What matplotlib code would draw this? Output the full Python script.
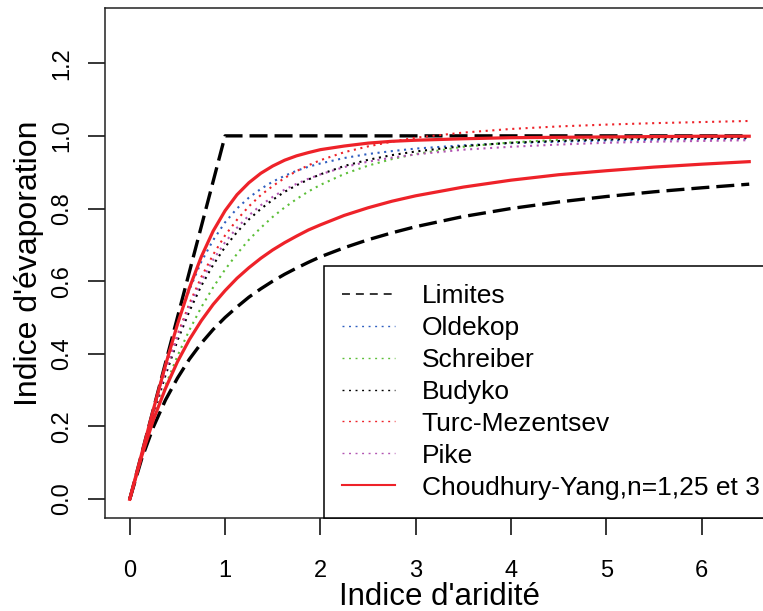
import matplotlib
matplotlib.use('Agg')
import matplotlib.pyplot as plt
from matplotlib.lines import Line2D

plt.rcParams['font.family'] = ['Liberation Sans', 'DejaVu Sans']

# indice d'aridite (x) et valeurs
aridite = [0, 0.125, 0.25, 0.375, 0.5, 0.625, 0.75, 0.875, 1, 1.125, 1.25, 1.375, 1.5,
           1.625, 1.75, 1.875, 2, 2.25, 2.5, 2.75, 3, 3.5, 4, 4.5, 5, 5.5, 6, 6.5]

lim_haut_x = [0, 1, 6.5]
lim_haut_y = [0, 1, 1]
lim_bas = [0, 0.111, 0.200, 0.273, 0.333, 0.385, 0.429, 0.467, 0.500, 0.529, 0.556,
           0.579, 0.600, 0.619, 0.636, 0.652, 0.667, 0.692, 0.714, 0.733, 0.750,
           0.778, 0.800, 0.818, 0.833, 0.846, 0.857, 0.867]
oldekop = [0, 0.125, 0.250, 0.371, 0.482, 0.576, 0.653, 0.713, 0.762, 0.800, 0.830,
           0.854, 0.874, 0.890, 0.904, 0.915, 0.924, 0.939, 0.950, 0.958, 0.965,
           0.974, 0.980, 0.984, 0.987, 0.989, 0.991, 0.992]
schreiber = [0, 0.118, 0.221, 0.313, 0.394, 0.465, 0.528, 0.583, 0.632, 0.675, 0.714,
             0.747, 0.777, 0.803, 0.826, 0.847, 0.865, 0.895, 0.918, 0.936, 0.950,
             0.970, 0.982, 0.989, 0.993, 0.996, 0.998, 0.999]
budyko = [0, 0.121, 0.235, 0.341, 0.436, 0.517, 0.587, 0.645, 0.694, 0.735, 0.770,
          0.799, 0.824, 0.846, 0.864, 0.880, 0.894, 0.917, 0.934, 0.947, 0.957,
          0.972, 0.981, 0.986, 0.990, 0.993, 0.994, 0.995]
turc = [0, 0.124, 0.243, 0.353, 0.452, 0.538, 0.611, 0.673, 0.726, 0.769, 0.806,
        0.837, 0.862, 0.884, 0.903, 0.919, 0.933, 0.955, 0.971, 0.984, 0.995,
        1.009, 1.019, 1.026, 1.031, 1.035, 1.038, 1.041]
pike = [0, 0.124, 0.243, 0.351, 0.447, 0.530, 0.600, 0.659, 0.707, 0.747, 0.781,
        0.809, 0.832, 0.852, 0.868, 0.882, 0.894, 0.914, 0.929, 0.940, 0.949,
        0.962, 0.970, 0.976, 0.981, 0.984, 0.986, 0.988]
choud_125 = [0, 0.118, 0.220, 0.305, 0.378, 0.439, 0.491, 0.536, 0.574, 0.608, 0.637,
             0.663, 0.686, 0.706, 0.724, 0.741, 0.755, 0.781, 0.802, 0.820, 0.835,
             0.859, 0.878, 0.893, 0.904, 0.914, 0.922, 0.929]
choud_3 = [0, 0.125, 0.249, 0.369, 0.481, 0.581, 0.667, 0.738, 0.794, 0.838, 0.871,
           0.897, 0.917, 0.933, 0.945, 0.954, 0.962, 0.972, 0.980, 0.985, 0.988,
           0.992, 0.995, 0.996, 0.997, 0.998, 0.999, 0.999]

noms = ['Limites', 'Oldekop', 'Schreiber', 'Budyko', 'Turc-Mezentsev', 'Pike',
        'Choudhury-Yang,n=1,25 et 3']
bleu = '#2f5fc0'
vert = '#5cbf38'
rouge = '#ee2229'
violet = '#b255b2'

fig = plt.figure(figsize=(7.63, 6.11), dpi=100)
ax = fig.add_axes([105/763, 93/611, 669/763, 510/611])

tirets = (0, (5.4, 2.1))
points = (0, (1, 2.2))
ax.plot(lim_haut_x, lim_haut_y, color='black', lw=2.4, linestyle=tirets)
ax.plot(aridite, lim_bas, color='black', lw=2.4, linestyle=tirets)
ax.plot(aridite, oldekop, color=bleu, lw=1.5, linestyle=points)
ax.plot(aridite, schreiber, color=vert, lw=1.5, linestyle=points)
ax.plot(aridite, budyko, color='black', lw=1.5, linestyle=points)
ax.plot(aridite, turc, color=rouge, lw=1.5, linestyle=points)
ax.plot(aridite, pike, color=violet, lw=1.5, linestyle=points)
ax.plot(aridite, choud_3, color=rouge, lw=2.3)
ax.plot(aridite, choud_125, color=rouge, lw=2.3)

ax.set_xlim(-0.26, 6.76)
ax.set_ylim(-0.052, 1.352)
ax.set_xticks([0, 1, 2, 3, 4, 5, 6])
ax.set_yticks([0, 0.2, 0.4, 0.6, 0.8, 1.0, 1.2])
ax.set_yticklabels(['0.0', '0.2', '0.4', '0.6', '0.8', '1.0', '1.2'])
ax.tick_params(direction='out', length=12, width=1.1, labelsize=17)
ax.tick_params(axis='x', pad=18)
ax.tick_params(axis='y', pad=11, labelrotation=90)
for t in ax.get_yticklabels():
    t.set_va('center')
for s in ax.spines.values():
    s.set_linewidth(1.1)
    s.set_color('#222222')

ax.set_xlabel("Indice d'aridité", fontsize=22.5)
ax.set_ylabel("Indice d'évaporation", fontsize=23)
ax.xaxis.set_label_coords(0.5, -0.126)
ax.yaxis.set_label_coords(-0.091, 0.5)

poign = [
    Line2D([], [], color='black', lw=1.1, linestyle=(0, (5.2, 3.9))),
    Line2D([], [], color=bleu, lw=1.0, linestyle=(0, (1.4, 3.3))),
    Line2D([], [], color=vert, lw=1.0, linestyle=(0, (1.4, 3.3))),
    Line2D([], [], color='black', lw=1.0, linestyle=(0, (1.4, 3.3))),
    Line2D([], [], color=rouge, lw=1.0, linestyle=(0, (1.4, 3.3))),
    Line2D([], [], color=violet, lw=1.0, linestyle=(0, (1.4, 3.3))),
    Line2D([], [], color=rouge, lw=1.5),
]
leg = ax.legend(poign, noms, loc='lower left', bbox_to_anchor=(219/669, 0),
                borderaxespad=0, fontsize=19, frameon=True, fancybox=False,
                framealpha=1, edgecolor='black', handlelength=2.0,
                handletextpad=1.0, borderpad=0.7, labelspacing=0.3)
leg.get_frame().set_linewidth(1.1)

fig.savefig('out.png', dpi=100)
